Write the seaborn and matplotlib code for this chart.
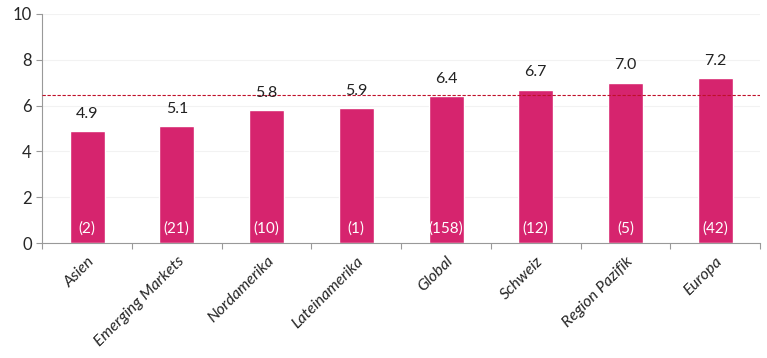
import matplotlib
matplotlib.use("Agg")
import matplotlib.pyplot as plt
import seaborn as sns
import numpy as np
import pandas as pd

# data
regions = ["Asien", "Emerging Markets", "Nordamerika", "Lateinamerika",
           "Global", "Schweiz", "Region Pazifik", "Europa"]
scores = [4.9, 5.1, 5.8, 5.9, 6.4, 6.7, 7.0, 7.2]
counts = [2, 21, 10, 1, 158, 12, 5, 42]
reference_level = 6.45

sns.set_theme(style="white")
plt.rcParams["font.family"] = ["Lato", "DejaVu Sans"]

df = pd.DataFrame({"region": regions, "score": scores, "n": counts})

fig = plt.figure(figsize=(7.67, 3.58), dpi=100)
ax = fig.add_axes([0.055, 0.321, 0.936, 0.64])

sns.barplot(data=df, x="region", y="score", color="#D6246E",
            saturation=1, width=0.39, ax=ax)

ax.axhline(reference_level, color="#C0102A", lw=0.8, ls=(0, (3, 1.5)), zorder=3)

for i, (v, n) in enumerate(zip(scores, counts)):
    ax.text(i, v + 0.45, f"{v:.1f}", ha="center", va="bottom",
            fontsize=11.5, color="#222222")
    ax.text(i, 0.3, f"({n})", ha="center", va="bottom",
            fontsize=11, color="white")

ax.set_ylim(0, 10)
ax.set_xlim(-0.5, len(regions) - 0.5)
ax.set_yticks(range(0, 11, 2))
ax.yaxis.grid(True, color="#F2F2F2", lw=0.8)
ax.set_axisbelow(True)

ax.set_xlabel("")
ax.set_ylabel("")
ax.set_xticks(range(len(regions)))
ax.set_xticklabels(regions, rotation=45, ha="right", rotation_mode="anchor",
                   fontsize=11.5, style="italic")
ax.set_xticks(np.arange(-0.5, len(regions)), minor=True)
ax.tick_params(axis="x", which="major", bottom=True, length=0, pad=8)
ax.tick_params(axis="x", which="minor", bottom=True, length=4,
               color="#999999", width=0.8)
ax.tick_params(axis="y", left=True, length=4, color="#999999", width=0.8,
               labelsize=12)

for side in ["top", "right"]:
    ax.spines[side].set_visible(False)
for side in ["left", "bottom"]:
    ax.spines[side].set_color("#999999")
    ax.spines[side].set_linewidth(0.8)

fig.savefig("out.png", dpi=100)
